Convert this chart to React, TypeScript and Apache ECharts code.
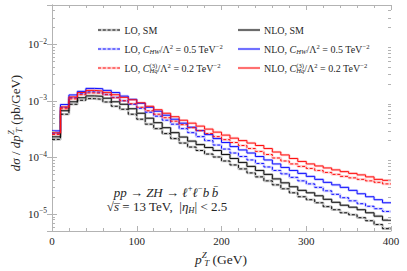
import React, { useEffect, useRef } from 'react';
import * as echarts from 'echarts';

// ---------------- data (dσ/dpT^Z in pb/GeV, 10 GeV bins from 0 to 400 GeV) ----------------
const binEdges = [0, 10, 20, 30, 40, 50, 60, 70, 80, 90, 100, 110, 120, 130, 140, 150, 160, 170, 180, 190, 200,
  210, 220, 230, 240, 250, 260, 270, 280, 290, 300, 310, 320, 330, 340, 350, 360, 370, 380, 390, 400];

const loSM = [2.09e-4, 5.83e-4, 8.75e-4, 1.03e-3, 1.10e-3, 1.07e-3, 9.6e-4, 8.07e-4, 7.14e-4, 5.83e-4,
  4.76e-4, 3.89e-4, 3.24e-4, 2.65e-4, 2.16e-4, 1.80e-4, 1.53e-4, 1.33e-4, 1.15e-4, 1.02e-4,
  8.67e-5, 7.38e-5, 6.28e-5, 5.33e-5, 4.54e-5, 3.86e-5, 3.28e-5, 2.79e-5, 2.37e-5, 2.02e-5,
  1.79e-5, 1.58e-5, 1.35e-5, 1.19e-5, 1.05e-5, 9.7e-6, 8.6e-6, 7.6e-6, 6.5e-6, 5.5e-6];

const nloSM = [2.32e-4, 6.72e-4, 9.68e-4, 1.14e-3, 1.23e-3, 1.21e-3, 1.12e-3, 9.68e-4, 8.75e-4, 7.29e-4,
  6.07e-4, 4.96e-4, 4.13e-4, 3.37e-4, 2.75e-4, 2.30e-4, 1.95e-4, 1.69e-4, 1.50e-4, 1.33e-4,
  1.13e-4, 9.6e-5, 8.17e-5, 6.95e-5, 5.90e-5, 5.02e-5, 4.18e-5, 3.56e-5, 3.03e-5, 2.62e-5,
  2.37e-5, 2.10e-5, 1.82e-5, 1.61e-5, 1.43e-5, 1.32e-5, 1.19e-5, 1.05e-5, 9.15e-6, 7.78e-6];

const loCHW = [2.70e-4, 7.74e-4, 1.14e-3, 1.34e-3, 1.45e-3, 1.42e-3, 1.31e-3, 1.16e-3, 1.01e-3, 8.75e-4,
  7.44e-4, 6.32e-4, 5.38e-4, 4.57e-4, 3.89e-4, 3.24e-4, 2.75e-4, 2.34e-4, 1.99e-4, 1.66e-4,
  1.41e-4, 1.20e-4, 1.04e-4, 9.04e-5, 7.84e-5, 6.80e-5, 5.90e-5, 5.13e-5, 4.45e-5, 3.86e-5,
  3.41e-5, 2.96e-5, 2.57e-5, 2.23e-5, 1.94e-5, 1.71e-5, 1.52e-5, 1.37e-5, 1.24e-5, 1.11e-5];

const nloCHW = [2.96e-4, 8.65e-4, 1.28e-3, 1.48e-3, 1.67e-3, 1.65e-3, 1.54e-3, 1.41e-3, 1.22e-3, 1.07e-3,
  9.12e-4, 7.74e-4, 6.59e-4, 5.60e-4, 4.76e-4, 4.05e-4, 3.44e-4, 2.99e-4, 2.54e-4, 2.16e-4,
  1.84e-4, 1.56e-4, 1.36e-4, 1.20e-4, 1.04e-4, 9.04e-5, 7.69e-5, 6.67e-5, 5.90e-5, 5.23e-5,
  4.63e-5, 4.10e-5, 3.63e-5, 3.28e-5, 2.96e-5, 2.62e-5, 2.28e-5, 2.02e-5, 1.79e-5, 1.58e-5];

const loCHq = [2.56e-4, 7.29e-4, 1.09e-3, 1.29e-3, 1.39e-3, 1.37e-3, 1.29e-3, 1.14e-3, 1.01e-3, 8.93e-4,
  7.74e-4, 6.72e-4, 5.83e-4, 5.06e-4, 4.39e-4, 3.81e-4, 3.37e-4, 2.99e-4, 2.65e-4, 2.34e-4,
  2.07e-4, 1.84e-4, 1.63e-4, 1.44e-4, 1.28e-4, 1.13e-4, 9.8e-5, 8.67e-5, 7.69e-5, 6.95e-5,
  6.40e-5, 5.90e-5, 5.44e-5, 5.02e-5, 4.63e-5, 4.36e-5, 4.10e-5, 3.86e-5, 3.63e-5, 3.41e-5];

const nloCHq = [2.73e-4, 7.84e-4, 1.18e-3, 1.41e-3, 1.54e-3, 1.50e-3, 1.42e-3, 1.29e-3, 1.16e-3, 1.05e-3,
  9.29e-4, 8.07e-4, 7.00e-4, 6.07e-4, 5.27e-4, 4.57e-4, 4.05e-4, 3.59e-4, 3.18e-4, 2.81e-4,
  2.49e-4, 2.20e-4, 1.99e-4, 1.80e-4, 1.63e-4, 1.44e-4, 1.25e-4, 1.11e-4, 9.6e-5, 8.51e-5,
  7.69e-5, 7.08e-5, 6.53e-5, 6.03e-5, 5.62e-5, 5.23e-5, 4.92e-5, 4.54e-5, 4.10e-5, 3.94e-5];

const xMin = 0;
const xMax = 400;
const xInterval = 100;
const yMin = 5e-6;
const yMax = 5e-2;
const yMinorMultipliers = [2, 3, 4, 5, 6, 7, 8, 9];
const yDecades = [1e-6, 1e-5, 1e-4, 1e-3, 1e-2];

// Rich-text strings (i: italic, ik: italic with small right kern, sup: superscript, sub: italic subscript,
// sup0/isup0: zero-width superscript stacked over the following sub0 subscript)
const legendLO_SM = 'LO, SM';
const legendNLO_SM = 'NLO, SM';
const legendLO_CHW = 'LO, {i|C}{sub|HW}/Λ{sup|2} = 0.5 TeV{sup|−2}';
const legendNLO_CHW = 'NLO, {i|C}{sub|HW}/Λ{sup|2} = 0.5 TeV{sup|−2}';
const legendLO_CHq = 'LO, {i|C}{sup0|(3)}{sub0|Hq}/Λ{sup|2} = 0.2 TeV{sup|−2}';
const legendNLO_CHq = 'NLO, {i|C}{sup0|(3)}{sub0|Hq}/Λ{sup|2} = 0.2 TeV{sup|−2}';
const annotLine1 = '{i|pp} → {i|ZH} → {i|ℓ}{sup|+}{i|ℓ}{sup|−}{i|b\u2009b\u0304}';
const annotLine2 = '√{i|s\u0305} = 13 TeV,  |{i|η}{sub|H}| < 2.5';
const yTitle = '{i|dσ} / {ik|dp}{isup0|Z}{sub0|T} (pb/GeV)';
const xTitle = '{ik|p}{isupx|Z}{subx|T} (GeV)';

// ---------------- styling ----------------
const FF = '"Liberation Serif", "DejaVu Serif", serif';
const FRAME = '#b3b3b3';
const LABEL = '#262626';
const BLACK = '#111111';
const BLUE = '#1010ff';
const RED = '#ff1010';

const seriesDefs = [
  { name: 'LO, SM', data: loSM, color: BLACK, dashed: true, halo: 'rgba(0,0,0,0.22)', legend: legendLO_SM, col: 0, row: 0 },
  { name: 'NLO, SM', data: nloSM, color: BLACK, dashed: false, halo: 'rgba(0,0,0,0.22)', legend: legendNLO_SM, col: 1, row: 0 },
  { name: 'LO, CHW', data: loCHW, color: BLUE, dashed: true, halo: 'rgba(40,40,255,0.22)', legend: legendLO_CHW, col: 0, row: 1 },
  { name: 'NLO, CHW', data: nloCHW, color: BLUE, dashed: false, halo: 'rgba(40,40,255,0.22)', legend: legendNLO_CHW, col: 1, row: 1 },
  { name: 'LO, CHq3', data: loCHq, color: RED, dashed: true, halo: 'rgba(255,40,40,0.22)', legend: legendLO_CHq, col: 0, row: 2 },
  { name: 'NLO, CHq3', data: nloCHq, color: RED, dashed: false, halo: 'rgba(255,40,40,0.22)', legend: legendNLO_CHq, col: 1, row: 2 },
];

function richFor(fs: number) {
  const s = fs * 0.66;
  const base = { fontFamily: FF, fill: LABEL };
  return {
    i: { ...base, fontStyle: 'italic', fontSize: fs, lineHeight: fs * 1.25 },
    ik: { ...base, fontStyle: 'italic', fontSize: fs, lineHeight: fs * 1.25, padding: [0, 2.5, 0, 0] },
    sup: { ...base, fontSize: s, lineHeight: fs * 0.5, verticalAlign: 'top' },
    sup0: { ...base, fontSize: s, lineHeight: fs * 0.3, verticalAlign: 'top', width: 0.01 },
    isup0: { ...base, fontStyle: 'italic', fontSize: s, lineHeight: fs * 0.2, verticalAlign: 'top', width: 0.01 },
    isupx: { ...base, fontStyle: 'italic', fontSize: s, lineHeight: fs * 0.05, verticalAlign: 'top', width: 0.01 },
    sub: { ...base, fontStyle: 'italic', fontSize: s, lineHeight: fs * 0.7, verticalAlign: 'bottom' },
    sub0: { ...base, fontStyle: 'italic', fontSize: s, lineHeight: fs * 0.38, verticalAlign: 'bottom' },
    subx: { ...base, fontStyle: 'italic', fontSize: s, lineHeight: fs * 0.3, verticalAlign: 'bottom' },
  };
}

function richText(text: string, x: number, y: number, fs: number, align: string, extra: any = {}) {
  return {
    type: 'text', x, y, silent: true, ...extra,
    style: {
      legacy: false,
      text, fontSize: fs, fontFamily: FF, fill: LABEL, lineHeight: fs * 1.25,
      align, verticalAlign: 'middle', rich: richFor(fs),
    },
  };
}

function stepData(vals: number[]) {
  return binEdges.map((e, i) => [e, vals[Math.min(i, vals.length - 1)]]);
}

function buildOption() {
  const halos = seriesDefs.map((s) => ({
    type: 'line', name: s.name + ' band', step: 'end', data: stepData(s.data), symbol: 'none', silent: true,
    lineStyle: { color: s.halo, width: 2.6 }, z: 2, xAxisIndex: 0, yAxisIndex: 0,
  }));
  const lines = seriesDefs.map((s) => ({
    type: 'line', name: s.name, step: 'end', data: stepData(s.data), symbol: 'none', silent: true,
    lineStyle: { color: s.color, width: 1, type: s.dashed ? [3, 1.8] : 'solid' }, z: 3, xAxisIndex: 0, yAxisIndex: 0,
  }));

  const minorVals: number[] = [];
  for (const d of yDecades) for (const m of yMinorMultipliers) {
    const v = d * m;
    if (v > yMin * 1.0001 && v < yMax * 0.9999) minorVals.push(v);
  }
  const minorSeries = {
    type: 'custom', silent: true, z: 6, xAxisIndex: 0, yAxisIndex: 0, clip: false,
    data: minorVals.map((v) => [0, v]),
    renderItem: (params: any, api: any) => {
      const cs = params.coordSys;
      const p = api.coord([0, api.value(1)]);
      const y = Math.round(p[1]) + 0.5;
      return {
        type: 'group',
        children: [
          { type: 'line', shape: { x1: cs.x, y1: y, x2: cs.x + 3, y2: y }, style: { stroke: FRAME, lineWidth: 1 } },
          { type: 'line', shape: { x1: cs.x + cs.width - 3, y1: y, x2: cs.x + cs.width, y2: y }, style: { stroke: FRAME, lineWidth: 1 } },
        ],
      };
    },
  };

  const xAxisBase = {
    type: 'value', min: xMin, max: xMax, interval: xInterval,
    axisLine: { show: true, lineStyle: { color: FRAME, width: 1 } },
    axisTick: { show: true, inside: true, length: 5, lineStyle: { color: FRAME } },
    minorTick: { show: true, splitNumber: 5, length: 3, lineStyle: { color: FRAME } },
    splitLine: { show: false },
  };
  const yAxisBase = {
    type: 'log', logBase: 10, min: yMin, max: yMax,
    axisLine: { show: true, lineStyle: { color: FRAME, width: 1 } },
    axisTick: { show: true, inside: true, length: 5, lineStyle: { color: FRAME } },
    minorTick: { show: false },
    splitLine: { show: false },
  };

  const graphics: any[] = [];
  // legend
  const rowY = [30, 49, 68];
  const colLine = [[98, 120], [238, 260]];
  const colText = [124.5, 264];
  for (const s of seriesDefs) {
    const y = rowY[s.row];
    const [x1, x2] = colLine[s.col];
    graphics.push({
      type: 'line', silent: true, shape: { x1, y1: y, x2, y2: y },
      style: { stroke: s.halo, lineWidth: 2.6 },
    });
    graphics.push({
      type: 'line', silent: true, shape: { x1, y1: y, x2, y2: y },
      style: { stroke: s.color, lineWidth: 1, lineDash: s.dashed ? [3, 1.8] : null },
    });
    graphics.push(richText(s.legend, colText[s.col], y, 10, 'left'));
  }
  // annotation
  graphics.push(richText(annotLine1, 166, 192, 13, 'center'));
  graphics.push(richText(annotLine2, 167, 206, 13, 'center'));
  // axis titles
  graphics.push(richText(xTitle, 221, 259, 13.5, 'center'));
  graphics.push(richText(yTitle, 15, 123, 13, 'center', { rotation: Math.PI / 2 }));

  return {
    animation: false,
    backgroundColor: '#ffffff',
    grid: { left: 52, right: 16, top: 5, bottom: 40, containLabel: false },
    xAxis: [
      {
        ...xAxisBase, position: 'bottom',
        axisLabel: { show: true, color: LABEL, fontFamily: FF, fontSize: 11, margin: 4 },
      },
      { ...xAxisBase, position: 'top', axisLabel: { show: false } },
    ],
    yAxis: [
      {
        ...yAxisBase, position: 'left',
        axisLabel: {
          show: true, margin: 5, color: LABEL, fontFamily: FF, fontSize: 11,
          formatter: (v: number) => {
            const e = Math.log10(v);
            const r = Math.round(e);
            if (Math.abs(e - r) > 1e-6) return '';
            return `{b|10}{s|${r < 0 ? '−' : ''}${Math.abs(r)}}`;
          },
          rich: {
            b: { fontSize: 11, fontFamily: FF, color: LABEL, lineHeight: 14 },
            s: { fontSize: 7.5, fontFamily: FF, color: LABEL, lineHeight: 6, verticalAlign: 'top' },
          },
        },
      },
      { ...yAxisBase, position: 'right', axisLabel: { show: false } },
    ],
    series: [...halos, ...lines, minorSeries],
    graphic: { elements: graphics },
  };
}

export default function App() {
  const ref = useRef<HTMLDivElement>(null);
  useEffect(() => {
    if (!ref.current) return;
    const chart = echarts.init(ref.current, null, { renderer: 'svg' });
    chart.setOption(buildOption() as any);
    return () => chart.dispose();
  }, []);
  return (
    <div
      ref={ref}
      style={{ position: 'fixed', left: 0, top: 0, width: 407, height: 271, background: '#fff' }}
    />
  );
}
